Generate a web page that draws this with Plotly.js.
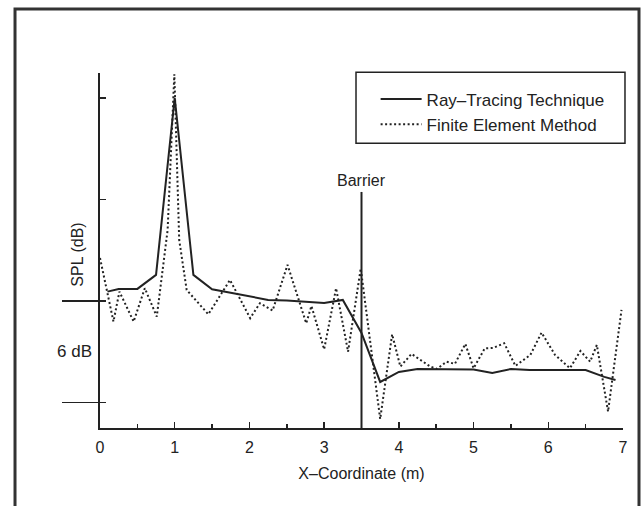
<!DOCTYPE html>
<html>
<head>
<meta charset="utf-8">
<script src="https://cdn.plot.ly/plotly-3.0.1.min.js"></script>
<style>html,body{margin:0;padding:0;background:#fff;}#chart{width:642px;height:506px;}</style>
</head>
<body>
<div id="chart"></div>
<script>
// Ray-tracing technique (solid line)
const rayX = [0.1, 0.25, 0.5, 0.75, 1.0, 1.25, 1.5, 1.75, 2.0, 2.25, 2.5, 2.75, 3.0, 3.25, 3.5, 3.75, 4.0, 4.25, 4.5, 4.75, 5.0, 5.25, 5.5, 5.75, 6.0, 6.25, 6.5, 6.75, 6.9];
const rayY = [6.55, 6.71, 6.71, 7.54, 18.0, 7.54, 6.69, 6.47, 6.26, 6.06, 6.03, 5.94, 5.88, 6.06, 4.11, 1.21, 1.80, 1.98, 1.98, 1.95, 1.95, 1.74, 1.98, 1.92, 1.92, 1.95, 1.92, 1.51, 1.33];

// Finite element method (dotted line)
const femX = [0.0, 0.18, 0.26, 0.45, 0.6, 0.76, 0.905, 0.995, 1.06, 1.16, 1.45, 1.74, 2.01, 2.14, 2.31, 2.51, 2.76, 2.83, 3.0, 3.16, 3.32, 3.49, 3.75, 3.91, 4.02, 4.17, 4.42, 4.51, 4.64, 4.75, 4.89, 5.0, 5.15, 5.26, 5.41, 5.56, 5.76, 5.91, 6.09, 6.29, 6.43, 6.56, 6.65, 6.8, 6.98];
const femY = [8.54, 4.78, 6.55, 4.78, 6.75, 5.07, 10.19, 19.4, 9.6, 6.65, 5.21, 7.24, 4.98, 5.86, 5.43, 8.13, 4.68, 5.70, 3.14, 6.75, 3.00, 7.92, -0.98, 4.03, 2.12, 2.87, 2.12, 1.98, 2.41, 2.28, 3.46, 2.02, 3.20, 3.22, 3.50, 2.16, 2.81, 4.13, 2.81, 2.02, 3.04, 2.41, 3.40, -0.54, 5.47];

// Barrier
const barrierX = [3.5, 3.5];
const barrierY = [-1.6, 12.44];

// Axis ticks
const xTickVals = [0, 1, 2, 3, 4, 5, 6, 7];
const xTickText = ['0', '1', '2', '3', '4', '5', '6', '7'];
const xMinorVals = [0.5, 1.5, 2.5, 3.5, 4.5, 5.5, 6.5];
const yTickVals = [0, 6, 12, 18];
const yLongTickVals = [0, 6];

const FONT = 'Liberation Sans, Arial, sans-serif';
const INK = '#222';

const traces = [
  {x: rayX, y: rayY, mode: 'lines', name: 'Ray\u2013Tracing Technique',
   line: {color: INK, width: 2}},
  {x: femX, y: femY, mode: 'lines', name: 'Finite Element Method',
   line: {color: INK, width: 2, dash: '2px,2.5px'}},
  {x: barrierX, y: barrierY, mode: 'lines', showlegend: false, hoverinfo: 'skip',
   line: {color: INK, width: 2}},
  // invisible helper so the overlay axis carrying the long outer ticks is drawn
  {x: [barrierX[0]], y: [yLongTickVals[0]], yaxis: 'y2', mode: 'markers', showlegend: false,
   hoverinfo: 'skip', marker: {opacity: 0}}
];

const layout = {
  width: 642, height: 506,
  margin: {l: 100, r: 19, t: 73, b: 78},
  paper_bgcolor: '#fff', plot_bgcolor: '#fff',
  font: {family: FONT, size: 16, color: INK},
  showlegend: true,
  legend: {x: 0.527, y: 0.976, xanchor: 'left', yanchor: 'top', itemwidth: 41,
    bgcolor: 'rgba(0,0,0,0)', borderwidth: 0, font: {family: FONT, size: 17, color: INK},
    tracegroupgap: 0},
  xaxis: {range: [0, 7], showline: true, linewidth: 2, linecolor: INK,
    ticks: 'inside', tickvals: xTickVals, ticktext: xTickText, ticklen: 6, tickwidth: 1.5, tickcolor: INK,
    ticklabelstandoff: 4,
    minor: {tickvals: xMinorVals, ticks: 'inside', ticklen: 4, tickwidth: 1.5, tickcolor: INK, showgrid: false},
    showgrid: false, zeroline: false, tickfont: {family: FONT, size: 16, color: INK},
    title: {text: 'X\u2013Coordinate (m)', font: {family: FONT, size: 16, color: INK}, standoff: 13}},
  yaxis: {range: [-1.51, 19.47], showline: true, linewidth: 2, linecolor: INK,
    ticks: 'inside', tickvals: yTickVals, ticklen: 6, tickwidth: 1.5, tickcolor: INK,
    showticklabels: false, showgrid: false, zeroline: false},
  yaxis2: {range: [-1.51, 19.47], overlaying: 'y', side: 'left', showline: false,
    ticks: 'outside', tickvals: yLongTickVals, ticklen: 37, tickwidth: 1.5, tickcolor: INK,
    showticklabels: false, showgrid: false, zeroline: false},
  annotations: [
    {text: 'SPL (dB)', textangle: -90, xref: 'paper', yref: 'paper', x: -0.063, y: 0.487,
     showarrow: false, font: {family: FONT, size: 16, color: INK}},
    {text: '6 dB', xref: 'paper', yref: 'y', x: -0.012, y: 3, xanchor: 'right',
     showarrow: false, font: {family: FONT, size: 17, color: INK}},
    {text: 'Barrier', xref: 'x', yref: 'y', x: 3.5, y: 13.1,
     showarrow: false, font: {family: FONT, size: 16, color: INK}}
  ],
  shapes: [
    {type: 'rect', xref: 'paper', yref: 'paper', x0: 0.4895, x1: 1.0038, y0: 0.802, y1: 1.002,
     line: {color: INK, width: 1.5}},
    {type: 'rect', xref: 'paper', yref: 'paper', x0: -0.1625, x1: 1.0306, y0: -0.26, y1: 1.1803,
     line: {color: '#333', width: 3}}
  ]
};

Plotly.newPlot('chart', traces, layout, {displayModeBar: false, staticPlot: true});
</script>
</body>
</html>
